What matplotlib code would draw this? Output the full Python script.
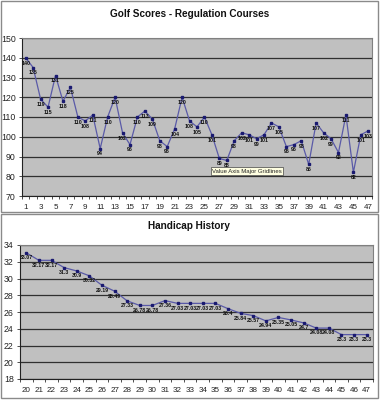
import matplotlib
matplotlib.use("Agg")
import matplotlib.pyplot as plt
from matplotlib.patches import Rectangle
import numpy as np

plt.rcParams['font.family'] = ['Liberation Sans', 'DejaVu Sans']

# ---- data ----
golf_rounds = list(range(1, 48))
golf_scores = [140, 135, 119, 115, 131, 118, 125, 110, 108, 111,
               94, 110, 120, 102, 96, 110, 113, 109, 98, 95,
               104, 120, 108, 105, 110, 101, 89, 88, 98, 102,
               101, 99, 101, 107, 105, 95, 96, 98, 86, 107,
               102, 99, 92, 111, 82, 101, 103]

hcp_rounds = list(range(20, 48))
hcp_values = [33.07, 32.17, 32.17, 31.3, 30.9, 30.32, 29.19, 28.49, 27.33, 26.78,
              26.78, 27.36, 27.03, 27.03, 27.03, 27.03, 26.4, 25.84, 25.57, 24.94,
              25.35, 25.05, 24.7, 24.08, 24.08, 23.3, 23.3, 23.3]

top_title = "Golf Scores - Regulation Courses"
bottom_title = "Handicap History"
top_yticks = [70, 80, 90, 100, 110, 120, 130, 140, 150]
bottom_yticks = [18, 20, 22, 24, 26, 28, 30, 32, 34]

W, H = 380, 400
fig = plt.figure(figsize=(W / 100, H / 100), dpi=100)
fig.patch.set_facecolor('white')

def fx(px):
    return px / W

def fy(py):
    return 1 - py / H

# chart frames
for (x0, y0, x1, y1) in [(1, 1, 378, 212), (1, 214, 378, 398)]:
    fig.add_artist(Rectangle((fx(x0), fy(y1)), fx(x1 - x0), (y1 - y0) / H,
                             transform=fig.transFigure, fill=False,
                             edgecolor='#8a8a8a', linewidth=1.0))

line_color = '#5a5aa8'
marker_color = '#1a1a70'
bg = '#c0c0c0'

def style_axes(ax, cats, vals, yticks, label_fmt, label_every, ylim):
    ax.set_facecolor(bg)
    x = np.arange(len(cats))
    ax.plot(x, vals, color=line_color, linewidth=0.9, marker='s',
            markersize=1.6, markerfacecolor=marker_color,
            markeredgecolor=marker_color, zorder=3)
    ax.set_xlim(-0.5, len(cats) - 0.5)
    ax.set_ylim(*ylim)
    ax.set_yticks(yticks)
    ax.set_yticklabels([str(t) for t in yticks], fontsize=6.3, color='#222222')
    ax.yaxis.grid(True, color='#303030', linewidth=0.9)
    ax.set_axisbelow(True)
    ax.set_xticks(x)
    ax.set_xticklabels([str(c) if i % label_every == 0 else '' for i, c in enumerate(cats)],
                       fontsize=5.8, color='#222222')
    ax.tick_params(axis='x', which='major', length=0, pad=6)
    ax.set_xticks(np.arange(-0.5, len(cats) + 0.5, 1), minor=True)
    ax.tick_params(axis='x', which='minor', length=2.5, width=0.6, color='#333333', direction='out')
    ax.tick_params(axis='y', length=2.5, width=0.6, color='#333333', pad=2)
    for s in ['top', 'right']:
        ax.spines[s].set_color('#808080')
        ax.spines[s].set_linewidth(0.8)
    for s in ['left', 'bottom']:
        ax.spines[s].set_color('#222222')
        ax.spines[s].set_linewidth(0.8)
    yr = ylim[1] - ylim[0]
    for xi, v in zip(x, vals):
        ax.text(xi, v - yr * 0.018, label_fmt(v), ha='center', va='top',
                fontsize=3.8, fontweight='bold', color='#111111', zorder=4)

# top chart
ax1 = fig.add_axes([fx(22), fy(196), fx(350), (196 - 38) / H])
style_axes(ax1, golf_rounds, golf_scores, top_yticks,
           lambda v: f"{v:g}", 2, (70, 150))
fig.text(fx(190), fy(14), top_title, ha='center', va='center',
         fontsize=7.2, fontweight='bold', color='#111111')

# tooltip
fig.text(fx(212), fy(171), "Value Axis Major Gridlines", ha='left', va='center',
         fontsize=4.3, color='#222222',
         bbox=dict(boxstyle='square,pad=0.25', facecolor='#ffffe1',
                   edgecolor='#444444', linewidth=0.5), zorder=10)

# bottom chart
ax2 = fig.add_axes([fx(20), fy(379), fx(353), (379 - 245) / H])
style_axes(ax2, hcp_rounds, hcp_values, bottom_yticks,
           lambda v: f"{v:g}", 1, (18, 34))
fig.text(fx(189), fy(226), bottom_title, ha='center', va='center',
         fontsize=7.2, fontweight='bold', color='#111111')

fig.savefig('out.png', dpi=100, facecolor='white')
